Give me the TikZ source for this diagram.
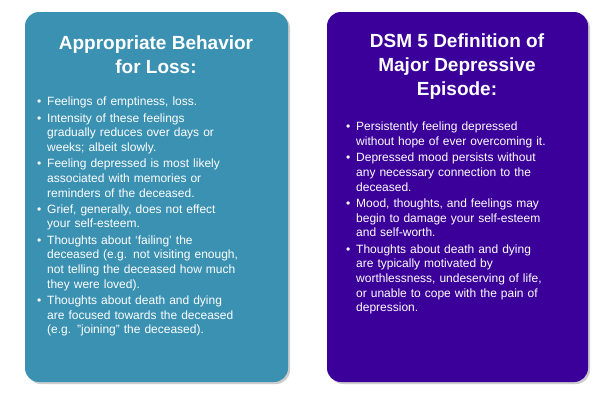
\documentclass[tikz,border=0pt]{standalone}
\usepackage{fontspec}
\setmainfont{Liberation Sans}
\usetikzlibrary{shadows}
\definecolor{tealcard}{HTML}{3A91B2}
\definecolor{purplecard}{HTML}{3A0099}
\newcommand{\bul}[1]{\noindent\hangindent=10pt\hangafter=1\hbox to 10pt{\textbullet\hfil}#1\par\vspace{1.5pt}}
\tikzset{card/.style={rounded corners=14pt,drop shadow={shadow xshift=2pt,shadow yshift=-2pt,opacity=0.4}},
  cardtitle/.style={text=white,font=\fontsize{19}{24}\selectfont\bfseries,align=center},
  cardtext/.style={text=white,font=\fontsize{12}{14.7}\selectfont,text width=235pt,inner sep=0pt,anchor=north west}}
\begin{document}
\begin{tikzpicture}[x=1pt,y=-1pt]
\useasboundingbox[fill=white] (0,0) rectangle (607,410);

\fill [tealcard,card] (25,12) rectangle (288,382);
\fill [purplecard,card] (327,12) rectangle (588,382);

\node [cardtitle] (losstitle) at (156,55) {Appropriate Behavior\\for Loss:};
\node [cardtitle] (dsmtitle) at (457,67) {DSM 5 Definition of\\Major Depressive\\Episode:};

\node [cardtext] (losslist) at (37,97) {%
\bul{Feelings of emptiness, loss.}
\bul{Intensity of these feelings\newline gradually reduces over days or\newline weeks; albeit slowly.}
\bul{Feeling depressed is most likely\newline associated with memories or\newline reminders of the deceased.}
\bul{Grief, generally, does not effect\newline your self-esteem.}
\bul{Thoughts about `failing' the\newline deceased (e.g. not visiting enough,\newline not telling the deceased how much\newline they were loved).}
\bul{Thoughts about death and dying\newline are focused towards the deceased\newline (e.g. "joining" the deceased).}};

\node [cardtext] (dsmlist) at (346,122) {%
\bul{Persistently feeling depressed\newline without hope of ever overcoming it.}
\bul{Depressed mood persists without\newline any necessary connection to the\newline deceased.}
\bul{Mood, thoughts, and feelings may\newline begin to damage your self-esteem\newline and self-worth.}
\bul{Thoughts about death and dying\newline are typically motivated by\newline worthlessness, undeserving of life,\newline or unable to cope with the pain of\newline depression.}};
\end{tikzpicture}
\end{document}
